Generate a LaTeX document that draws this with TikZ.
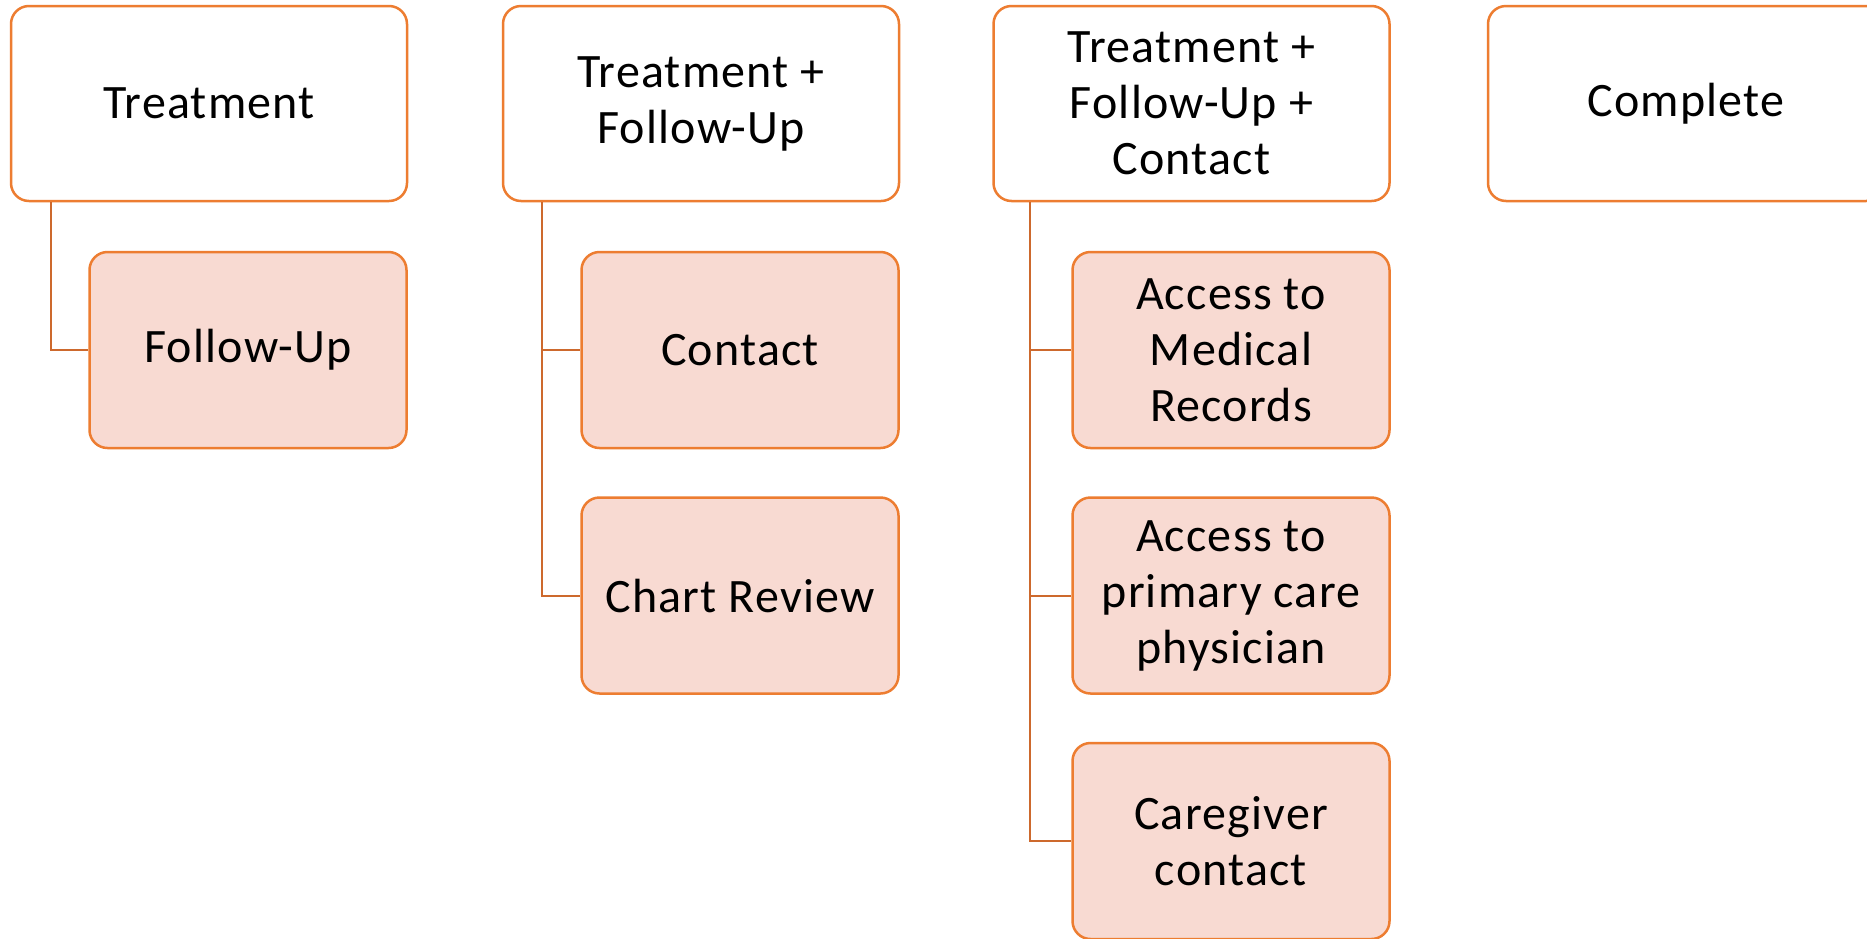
\documentclass[tikz,border=0pt]{standalone}
\usepackage{fontspec}
\setmainfont{Carlito}[LetterSpace=2.5]
\usetikzlibrary{calc}
\definecolor{boxline}{RGB}{237,125,49}
\definecolor{boxfill}{RGB}{248,218,210}
\definecolor{linkline}{RGB}{205,105,45}
\begin{document}
\begin{tikzpicture}[x=1pt,y=-1pt,
  parentbox/.style={draw=boxline,line width=2.5pt,fill=white,rounded corners=18pt,
    minimum width=396pt,minimum height=195pt,align=center,inner sep=0pt,
    font=\fontsize{48}{56}\selectfont},
  childbox/.style={parentbox,fill=boxfill,minimum width=317pt,minimum height=196pt},
  link/.style={draw=linkline,line width=2pt}]
\useasboundingbox (0,0) rectangle (1867,938);
\fill[white] (0,0) rectangle (1867,938);
% column 1
\node[parentbox] (p1) at (209,103.5) {Treatment};
\node[childbox] (c11) at (248,350) {Follow-Up};
% column 2
\node[parentbox] (p2) at (701,103.5) {Treatment +\\Follow-Up};
\node[childbox] (c21) at (740,350) {Contact};
\node[childbox] (c22) at (740,595.5) {Chart Review};
% column 3
\node[parentbox] (p3) at (1191.5,103.5) {Treatment +\\Follow-Up +\\Contact};
\node[childbox] (c31) at (1231,350) {Access to\\Medical\\Records};
\node[childbox] (c32) at (1231,595.5) {Access to\\primary care\\physician};
\node[childbox] (c33) at (1231,841) {Caregiver\\contact};
% column 4
\node[parentbox] (p4) at (1686,103.5) {Complete};
% connectors
\draw[link] ($(p1.south west)+(41,0)$) |- (c11.west);
\draw[link] ($(p2.south west)+(40,0)$) |- (c21.west);
\draw[link] ($(p2.south west)+(40,0)$) |- (c22.west);
\draw[link] ($(p3.south west)+(38,0)$) |- (c31.west);
\draw[link] ($(p3.south west)+(38,0)$) |- (c32.west);
\draw[link] ($(p3.south west)+(38,0)$) |- (c33.west);
\end{tikzpicture}
\end{document}
